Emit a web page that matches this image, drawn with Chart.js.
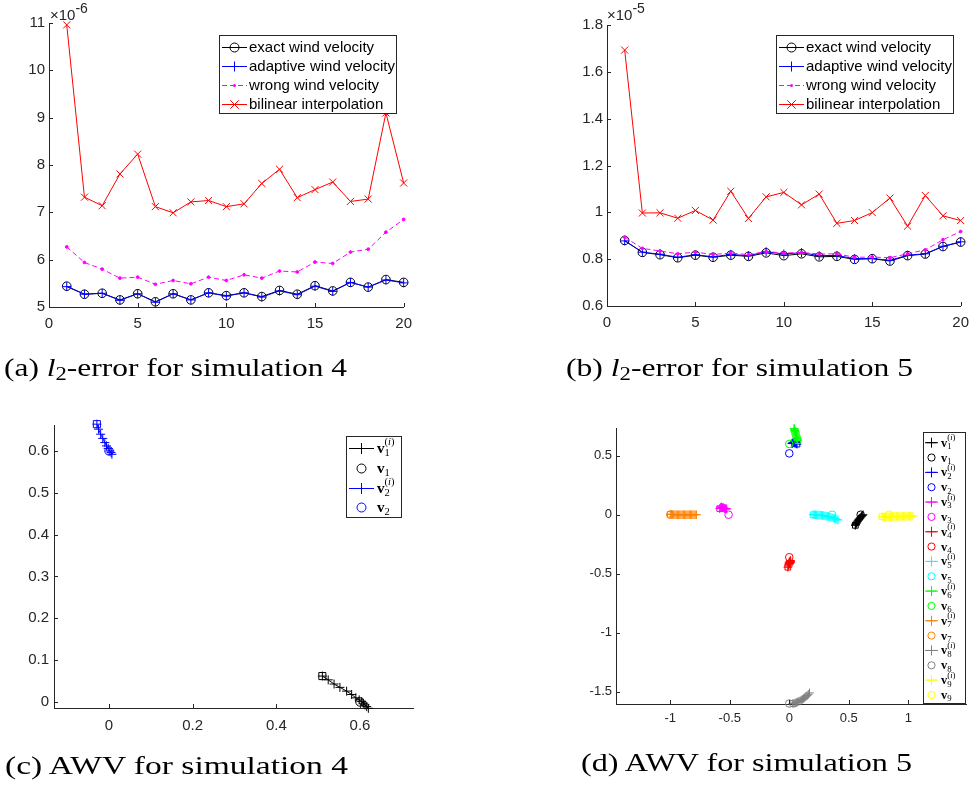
<!DOCTYPE html>
<html><head><meta charset="utf-8">
<script src="https://cdn.jsdelivr.net/npm/chart.js@4.4.1/dist/chart.umd.min.js"></script>
<style>
html,body{margin:0;padding:0;background:#fff;}
body{width:977px;height:796px;position:relative;overflow:hidden;}
canvas{position:absolute;}
.cap{position:absolute;font-family:"Liberation Serif",serif;font-size:26px;line-height:26px;white-space:nowrap;color:#000;transform-origin:0 0;}
.cap sub{font-size:0.72em;vertical-align:-0.22em;line-height:0;}
.exp{position:absolute;font-family:"Liberation Sans",Arial,sans-serif;font-size:15px;line-height:15px;color:#262626;white-space:nowrap;}
.exp sup{font-size:14px;vertical-align:7px;line-height:0;}
.legbox{position:absolute;border:1px solid #262626;background:#fff;box-sizing:border-box;}
.lt{position:absolute;white-space:nowrap;color:#000;}
.st{position:relative;display:inline-block;}
.sb{font-size:0.7em;position:relative;top:0.28em;}
.sp{font-size:0.7em;position:absolute;left:0;top:-0.62em;}
</style></head><body>
<script>
// ================= DATA =================
// (a) l2-error for simulation 4 (values x 10^-6)
const iterations = [1,2,3,4,5,6,7,8,9,10,11,12,13,14,15,16,17,18,19,20];
const exactA    = [5.44,5.27,5.29,5.15,5.28,5.11,5.28,5.15,5.30,5.24,5.30,5.22,5.35,5.27,5.45,5.34,5.52,5.42,5.58,5.52];
const adaptiveA = [5.43,5.27,5.29,5.14,5.28,5.10,5.28,5.15,5.30,5.23,5.30,5.21,5.34,5.26,5.44,5.33,5.52,5.42,5.57,5.51];
const wrongA    = [6.27,5.94,5.80,5.61,5.63,5.48,5.56,5.49,5.63,5.56,5.68,5.61,5.76,5.74,5.95,5.92,6.16,6.22,6.58,6.85];
const bilinearA = [10.96,7.32,7.14,7.81,8.23,7.12,6.99,7.22,7.25,7.12,7.18,7.61,7.91,7.31,7.48,7.64,7.23,7.28,9.10,7.62];
// (b) l2-error for simulation 5 (values x 10^-5)
const exactB    = [0.880,0.829,0.819,0.806,0.817,0.808,0.817,0.812,0.827,0.815,0.823,0.810,0.812,0.799,0.802,0.792,0.815,0.822,0.854,0.873];
const adaptiveB = [0.878,0.830,0.821,0.808,0.819,0.810,0.820,0.815,0.832,0.822,0.828,0.815,0.816,0.802,0.803,0.795,0.817,0.823,0.855,0.874];
const wrongB    = [0.894,0.846,0.835,0.823,0.830,0.820,0.826,0.819,0.833,0.826,0.829,0.822,0.823,0.808,0.809,0.806,0.823,0.840,0.883,0.918];
const bilinearB = [1.693,0.997,0.998,0.975,1.008,0.967,1.090,0.974,1.066,1.085,1.032,1.078,0.953,0.965,0.999,1.061,0.941,1.072,0.985,0.965];
// tick labels
const xTicksAB = [0,5,10,15,20];
const yTicksA  = [5,6,7,8,9,10,11];
const yTicksB  = [0.6,0.8,1,1.2,1.4,1.6,1.8];
const xTicksC  = [0,0.2,0.4,0.6];
const yTicksC  = [0,0.1,0.2,0.3,0.4,0.5,0.6];
const xTicksD  = [-1,-0.5,0,0.5,1];
const yTicksD  = [-1.5,-1,-0.5,0,0.5];
// (c) AWV for simulation 4
const c1TrajX = [0.510,0.524,0.538,0.552,0.568,0.580,0.590,0.598,0.604,0.608,0.612,0.616,0.620];
const c1TrajY = [0.062,0.053,0.043,0.035,0.026,0.018,0.010,0.005,0.001,-0.003,-0.007,-0.011,-0.015];
const c2TrajX = [-0.029,-0.025,-0.020,-0.015,-0.010,-0.006,-0.002,0.002,0.005,0.007];
const c2TrajY = [0.664,0.652,0.640,0.630,0.620,0.612,0.606,0.600,0.596,0.592];
const cTrueX = [0.6, 0.0];
const cTrueY = [0.0, 0.6];
// (d) AWV for simulation 5
const d1x = [0.555,0.558,0.562,0.566,0.570,0.575,0.580,0.585,0.590,0.596,0.602,0.608,0.614,0.620];
const d1y = [-0.090,-0.082,-0.075,-0.068,-0.061,-0.054,-0.047,-0.041,-0.034,-0.027,-0.020,-0.013,-0.006,0.000];
const d2x = [0.065,0.062,0.058,0.055,0.052,0.048,0.045,0.042,0.038,0.035,0.032,0.028,0.025,0.022];
const d2y = [0.598,0.602,0.606,0.610,0.612,0.614,0.616,0.615,0.613,0.611,0.609,0.607,0.605,0.603];
const d3x = [-0.585,-0.580,-0.575,-0.570,-0.565,-0.560,-0.555,-0.550,-0.545,-0.540,-0.535,-0.530,-0.525];
const d3y = [0.052,0.058,0.064,0.066,0.062,0.058,0.060,0.057,0.054,0.052,0.050,0.049,0.050];
const d4x = [-0.012,-0.008,-0.004,0.000,0.004,0.008,0.012,0.010,0.005,0.000,-0.004,0.003,0.010];
const d4y = [-0.445,-0.435,-0.425,-0.418,-0.410,-0.402,-0.395,-0.388,-0.395,-0.402,-0.410,-0.414,-0.406];
const d5x = [0.20,0.21,0.22,0.23,0.24,0.25,0.26,0.27,0.28,0.29,0.30,0.31,0.32,0.33,0.34,0.35,0.36,0.37,0.38,0.39,0.40,0.41];
const d5y = [0.000,0.000,0.000,-0.001,-0.002,-0.003,-0.004,-0.005,-0.006,-0.008,-0.010,-0.012,-0.014,-0.016,-0.019,-0.022,-0.025,-0.028,-0.032,-0.036,-0.040,-0.045];
const d6x = [0.072,0.068,0.065,0.062,0.060,0.058,0.056,0.054,0.052,0.050,0.048,0.046,0.044,0.042,0.040];
const d6y = [0.628,0.636,0.644,0.652,0.660,0.668,0.676,0.684,0.692,0.700,0.707,0.714,0.720,0.726,0.732];
const d7x = [-1.00,-0.99,-0.98,-0.97,-0.96,-0.95,-0.94,-0.93,-0.92,-0.91,-0.90,-0.89,-0.88,-0.87,-0.86,-0.85,-0.84,-0.83,-0.82,-0.81,-0.80,-0.79,-0.78];
const d7y = [0.004,0.003,0.002,0.001,0.000,0.000,0.000,-0.001,0.000,0.000,0.001,0.000,0.000,-0.001,0.000,0.000,0.000,0.001,0.000,0.000,0.000,0.000,0.000];
const d8x = [0.03,0.04,0.05,0.06,0.07,0.08,0.09,0.10,0.11,0.12,0.13,0.14,0.15,0.16,0.17];
const d8y = [-1.600,-1.598,-1.595,-1.591,-1.587,-1.582,-1.577,-1.571,-1.565,-1.558,-1.550,-1.542,-1.533,-1.522,-1.510];
const d9x = [0.78,0.79,0.80,0.81,0.82,0.83,0.84,0.85,0.86,0.87,0.88,0.89,0.90,0.91,0.92,0.93,0.94,0.95,0.96,0.97,0.98,0.99,1.00,1.01,1.02,1.03,1.04];
const d9y = [-0.016,-0.018,-0.020,-0.019,-0.018,-0.017,-0.016,-0.016,-0.015,-0.015,-0.015,-0.016,-0.015,-0.015,-0.014,-0.015,-0.015,-0.014,-0.014,-0.015,-0.014,-0.013,-0.013,-0.012,-0.012,-0.012,-0.011];
const dTrueX = [0.60,0.00,-0.51,0.00,0.36,0.00,-1.00,0.00,0.84];
const dTrueY = [0.00,0.52,0.00,-0.36,0.00,0.60,0.00,-1.60,0.00];
const dColors = ['#000000','#0000ff','#ff00ff','#ff0000','#00ffff','#00ff00','#ff8000','#808080','#ffff00'];

// ================= HELPERS =================
const SANS = '"Liberation Sans", Arial, sans-serif';
const SERIF = '"Liberation Serif", serif';
const AX = '#262626';
const pts = (xs, ys) => xs.map((x, i) => ({x, y: ys[i]}));
const fmt = v => String(+(+v).toFixed(3));

const inTicks = {
  id: 'inTicks',
  afterDraw(chart, args, o) {
    const {ctx, chartArea: a, scales: {x, y}} = chart;
    const L = o.len || 4;
    ctx.save(); ctx.strokeStyle = AX; ctx.lineWidth = 1; ctx.beginPath();
    x.ticks.forEach(t => { const p = Math.round(x.getPixelForValue(t.value)) + 0.5; ctx.moveTo(p, a.bottom); ctx.lineTo(p, a.bottom - L); });
    y.ticks.forEach(t => { const p = Math.round(y.getPixelForValue(t.value)) + 0.5; ctx.moveTo(a.left, p); ctx.lineTo(a.left + L, p); });
    ctx.stroke(); ctx.restore();
  }
};

function axis(min, max, tickVals, pad, size, fs) {
  return {
    type: 'linear', min, max,
    grid: {display: false, drawTicks: false},
    border: {display: true, color: AX, width: 1},
    ticks: {color: AX, padding: pad, font: {family: SANS, size: fs}, autoSkip: false, maxRotation: 0, callback: v => fmt(v)},
    afterBuildTicks: s => { s.ticks = tickVals.map(v => ({value: v})); },
    afterFit: s => { if (s.isHorizontal()) s.height = size; else s.width = size; }
  };
}

function makeChart(left, top, w, h, area, datasets, xo, yo, tickLen) {
  const cv = document.createElement('canvas');
  cv.width = w; cv.height = h;
  cv.style.left = left + 'px'; cv.style.top = top + 'px';
  cv.style.width = w + 'px'; cv.style.height = h + 'px';
  document.body.appendChild(cv);
  datasets.forEach((d, i) => d.order = datasets.length - i); // later-plotted on top
  return new Chart(cv, {
    type: 'scatter',
    data: {datasets},
    options: {
      responsive: false, animation: false, devicePixelRatio: 1, events: [],
      layout: {padding: {top: area.t - top, right: left + w - area.r, left: 0, bottom: 0}},
      plugins: {legend: {display: false}, tooltip: {enabled: false}, inTicks: {len: tickLen}},
      scales: {
        x: axis(xo.min, xo.max, xo.ticks, xo.pad, top + h - area.b, xo.fs),
        y: axis(yo.min, yo.max, yo.ticks, yo.pad, area.l - left, yo.fs)
      }
    },
    plugins: [inTicks]
  });
}

function ds(xs, ys, color, style, r, extra) {
  return Object.assign({
    data: pts(xs, ys), showLine: true, borderColor: color, borderWidth: 1,
    pointStyle: style, pointRadius: r, pointBorderColor: color,
    pointBackgroundColor: 'rgba(0,0,0,0)', pointBorderWidth: 1, clip: false, tension: 0
  }, extra || {});
}

// ================= CHARTS =================
function errDatasets(ex, ad, wr, bi) {
  return [
    ds(iterations, ex, '#000000', 'circle', 4.3),
    ds(iterations, ad, '#0000ff', 'cross', 4.5),
    ds(iterations, wr, '#ff00ff', 'circle', 1.4, {borderDash: [5, 3], pointBackgroundColor: '#ff00ff'}),
    ds(iterations, bi, '#ff0000', 'crossRot', 5)
  ];
}

makeChart(0, 0, 420, 340, {l: 49, t: 23, r: 408, b: 307},
  errDatasets(exactA, adaptiveA, wrongA, bilinearA),
  {min: 0, max: 20, ticks: xTicksAB, pad: 8, fs: 15},
  {min: 5, max: 11, ticks: yTicksA, pad: 4, fs: 15}, 4);

makeChart(560, 0, 417, 340, {l: 607, t: 25, r: 965, b: 306},
  errDatasets(exactB, adaptiveB, wrongB, bilinearB),
  {min: 0, max: 20, ticks: xTicksAB, pad: 8, fs: 15},
  {min: 0.6, max: 1.8, ticks: yTicksB, pad: 4, fs: 15}, 4);

const cSets = [
  ds(c1TrajX, c1TrajY, '#000000', 'cross', 4.5),
  ds([c1TrajX[0]], [c1TrajY[0]], '#000000', 'rect', 5, {showLine: false}),
  ds([cTrueX[0]], [cTrueY[0]], '#000000', 'circle', 4.2, {showLine: false}),
  ds(c2TrajX, c2TrajY, '#0000ff', 'cross', 4.5),
  ds([c2TrajX[0]], [c2TrajY[0]], '#0000ff', 'rect', 5, {showLine: false}),
  ds([cTrueX[1]], [cTrueY[1]], '#0000ff', 'circle', 4.2, {showLine: false})
];
makeChart(0, 400, 430, 350, {l: 54, t: 425, r: 413, b: 708}, cSets,
  {min: -0.1315, max: 0.7267, ticks: xTicksC, pad: 9, fs: 15},
  {min: -0.0143, max: 0.662, ticks: yTicksC, pad: 5, fs: 15}, 4);

const dTrajX = [d1x, d2x, d3x, d4x, d5x, d6x, d7x, d8x, d9x];
const dTrajY = [d1y, d2y, d3y, d4y, d5y, d6y, d7y, d8y, d9y];
const dSets = [];
dColors.forEach((c, k) => {
  dSets.push(ds(dTrajX[k], dTrajY[k], c, 'cross', 4.3));
  dSets.push(ds([dTrajX[k][0]], [dTrajY[k][0]], c, 'rect', 4, {showLine: false}));
  dSets.push(ds([dTrueX[k]], [dTrueY[k]], c, 'circle', 3.8, {showLine: false}));
});
makeChart(570, 400, 407, 340, {l: 616, t: 428, r: 966, b: 704}, dSets,
  {min: -1.456, max: 1.485, ticks: xTicksD, pad: 7, fs: 13},
  {min: -1.604, max: 0.735, ticks: yTicksD, pad: 4, fs: 13}, 4);

// ================= LEGENDS / TEXT =================
const NS = 'http://www.w3.org/2000/svg';
function box(l, t, r, b) {
  const d = document.createElement('div'); d.className = 'legbox';
  d.style.cssText = `left:${l}px;top:${t}px;width:${r - l}px;height:${b - t}px`;
  document.body.appendChild(d);
}
function text(html, left, cy, font, fs, lh) {
  const d = document.createElement('div'); d.className = 'lt';
  d.style.cssText = `left:${left}px;top:${cy - lh / 2}px;line-height:${lh}px;font-family:${font};font-size:${fs}px`;
  d.innerHTML = html; document.body.appendChild(d); return d;
}
function div(cls, html, left, top) {
  const d = document.createElement('div'); d.className = cls;
  d.style.left = left + 'px'; d.style.top = top + 'px';
  d.innerHTML = html; document.body.appendChild(d); return d;
}

box(219, 35, 397, 114);
box(776, 35, 954, 114);
box(346, 436, 402, 518);
box(923, 432, 966, 704);

const svg = document.createElementNS(NS, 'svg');
svg.setAttribute('width', 977); svg.setAttribute('height', 796);
svg.style.cssText = 'position:absolute;left:0;top:0;pointer-events:none';
document.body.appendChild(svg);
function el(tag, attrs) { const e = document.createElementNS(NS, tag); for (const k in attrs) e.setAttribute(k, attrs[k]); svg.appendChild(e); return e; }
function sample(x0, x1, cy, color, line, dash, marker, r) {
  if (line) el('line', {x1: x0, y1: cy, x2: x1, y2: cy, stroke: color, 'stroke-width': 1, 'stroke-dasharray': dash || 'none'});
  const cx = (x0 + x1) / 2;
  if (marker === 'circle') el('circle', {cx, cy, r, fill: 'none', stroke: color, 'stroke-width': 1});
  if (marker === 'dot') el('circle', {cx, cy, r, fill: color});
  if (marker === 'plus') { el('line', {x1: cx - r, y1: cy, x2: cx + r, y2: cy, stroke: color}); el('line', {x1: cx, y1: cy - r, x2: cx, y2: cy + r, stroke: color}); }
  if (marker === 'x') { const q = r * 0.707; el('line', {x1: cx - q, y1: cy - q, x2: cx + q, y2: cy + q, stroke: color}); el('line', {x1: cx - q, y1: cy + q, x2: cx + q, y2: cy - q, stroke: color}); }
}

const errLabels = ['exact wind velocity', 'adaptive wind velocity', 'wrong wind velocity', 'bilinear interpolation'];
const errStyles = [['#000000', null, 'circle', 4.5], ['#0000ff', null, 'plus', 5], ['#ff00ff', '5,3', 'dot', 1.5], ['#ff0000', null, 'x', 6]];
const errRows = [47, 66, 85, 104];
[[222, 247, 249], [779, 804, 806]].forEach(([x0, x1, tx]) => {
  errRows.forEach((cy, i) => {
    const s = errStyles[i];
    sample(x0, x1, cy + 0.5, s[0], true, s[1], s[2], s[3]);
    text(errLabels[i], tx, cy, SANS, 15, 18);
  });
});

const vlab = (k, traj) => `<b>v</b><span class="st">${traj ? '<span class="sp">(<i>i</i>)</span>' : ''}<span class="sb">${k}</span></span>`;
// (c) legend
const cRows = [448, 468, 488, 507];
const cCols = ['#000000', '#000000', '#0000ff', '#0000ff'];
cRows.forEach((cy, i) => {
  const traj = i % 2 === 0;
  sample(349, 374, cy + 0.5, cCols[i], traj, null, traj ? 'plus' : 'circle', traj ? 5.5 : 4.5);
  text(vlab(Math.floor(i / 2) + 1, traj), 377, cy, SERIF, 15, 18);
});
// (d) legend
for (let i = 0; i < 18; i++) {
  const k = Math.floor(i / 2), traj = i % 2 === 0;
  const cy = 442.7 + i * 14.84;
  sample(925, 938, cy, dColors[k], traj, null, traj ? 'plus' : 'circle', traj ? 5 : 3.6);
  text(vlab(k + 1, traj), 941, cy, SERIF, 12.5, 14);
}

// exponent labels
div('exp', '\u00d710<sup>-6</sup>', 50, 7);
div('exp', '\u00d710<sup>-5</sup>', 607, 7);

// captions
function cap(html, left, baseline, width) {
  const d = div('cap', html, left, baseline - 21.8);
  const w = d.getBoundingClientRect().width;
  d.style.transform = `scaleX(${width / w})`;
}
cap('(a) <i>l</i><sub>2</sub>-error for simulation 4', 4, 377, 343);
cap('(b) <i>l</i><sub>2</sub>-error for simulation 5', 566, 377, 347);
cap('(c) AWV for simulation 4', 5, 775, 343);
cap('(d) AWV for simulation 5', 581, 772, 331);
</script>
</body></html>
